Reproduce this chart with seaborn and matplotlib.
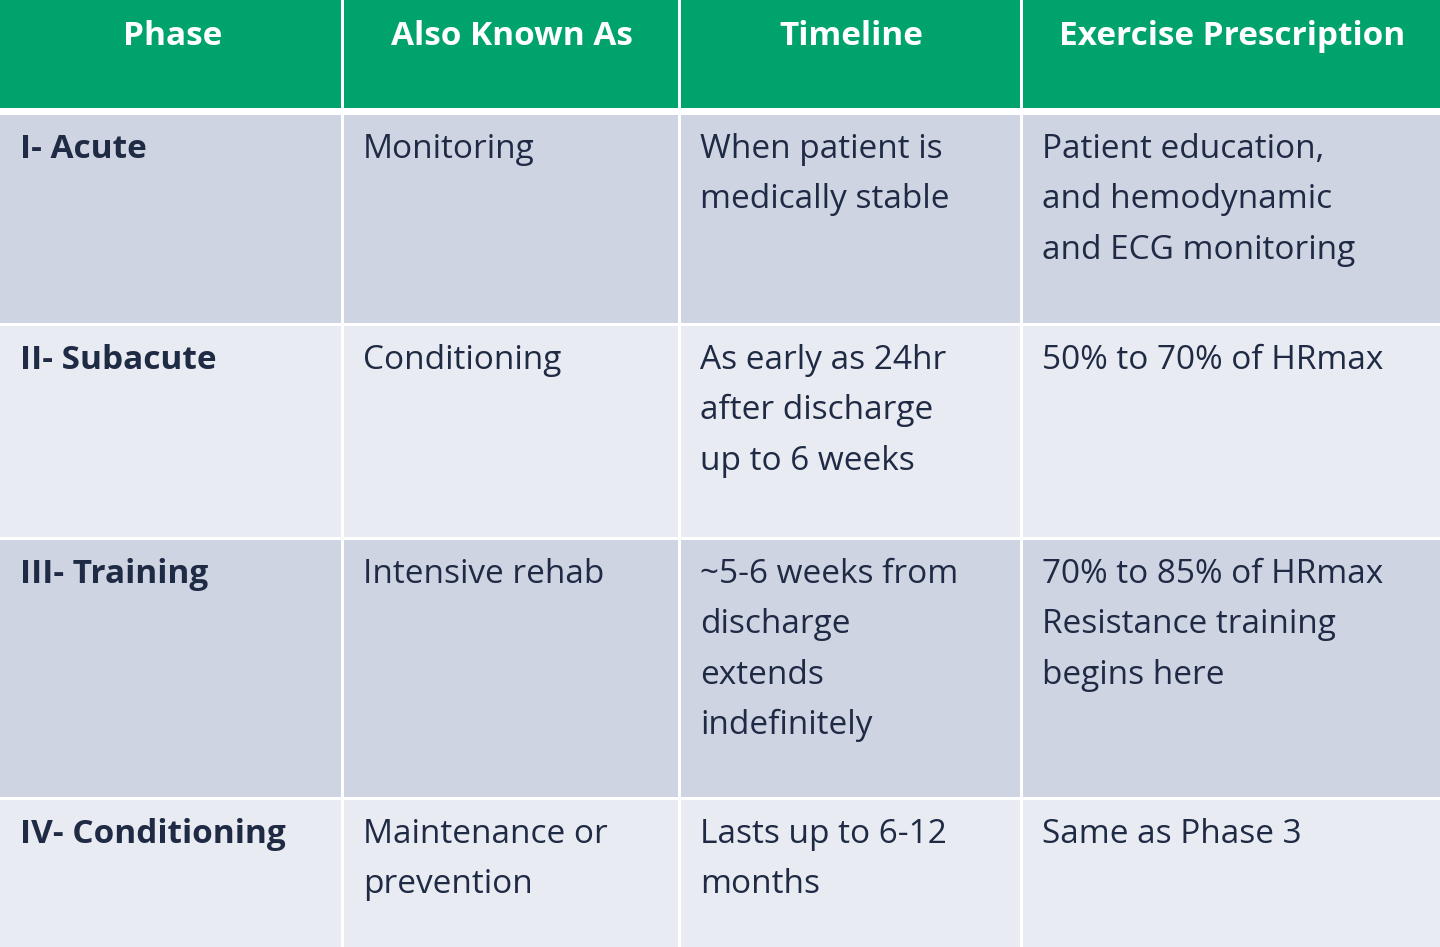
import matplotlib
matplotlib.use("Agg")
import matplotlib.pyplot as plt
import seaborn as sns
from matplotlib.patches import Rectangle

sns.set_theme(style="white")
plt.rcParams['font.family'] = ['Open Sans', 'DejaVu Sans']

headers = ["Phase", "Also Known As", "Timeline", "Exercise Prescription"]
phases = ["I- Acute", "II- Subacute", "III- Training", "IV- Conditioning"]
aka = ["Monitoring", "Conditioning", "Intensive rehab", "Maintenance or\nprevention"]
timeline = ["When patient is\nmedically stable",
            "As early as 24hr\nafter discharge\nup to 6 weeks",
            "~5-6 weeks from\ndischarge\nextends\nindefinitely",
            "Lasts up to 6-12\nmonths"]
prescription = ["Patient education,\nand hemodynamic\nand ECG monitoring",
                "50% to 70% of HRmax",
                "70% to 85% of HRmax\nResistance training\nbegins here",
                "Same as Phase 3"]

col_edges = [0, 341, 678, 1020, 1440]
row_edges = [(0, 108), (115, 323), (326, 537), (540, 797), (800, 947)]
green = "#00A36C"
row_colors = ["#CFD4E3", "#E9EBF2"]
txt = "#1F2A44"

fig = plt.figure(figsize=(14.4, 9.47), dpi=100)
ax = fig.add_axes([0, 0, 1, 1])
ax.set_xlim(0, 1440)
ax.set_ylim(947, 0)
ax.axis("off")

gap = 3
for c in range(4):
    x0, x1 = col_edges[c], col_edges[c + 1]
    y0, y1 = row_edges[0]
    ax.add_patch(Rectangle((x0 + (gap if c else 0), y0), x1 - x0 - (gap if c else 0), y1 - y0,
                           color=green, lw=0))
    ax.text((x0 + x1) / 2 + 2, 36, headers[c], color="white", fontsize=24,
            fontweight="bold", ha="center", va="center")

cols = [phases, aka, timeline, prescription]
for r in range(4):
    y0, y1 = row_edges[r + 1]
    for c in range(4):
        x0, x1 = col_edges[c], col_edges[c + 1]
        ax.add_patch(Rectangle((x0 + (gap if c else 0), y0), x1 - x0 - (gap if c else 0), y1 - y0,
                               color=row_colors[r % 2], lw=0))
        for i, line in enumerate(cols[c][r].split("\n")):
            ax.text(x0 + (20 if c == 0 else 22), y0 + 34 + 50.5 * i, line, color=txt,
                    fontsize=24, fontweight="bold" if c == 0 else "normal",
                    ha="left", va="center")

fig.savefig("out.png", dpi=100, facecolor="white")
